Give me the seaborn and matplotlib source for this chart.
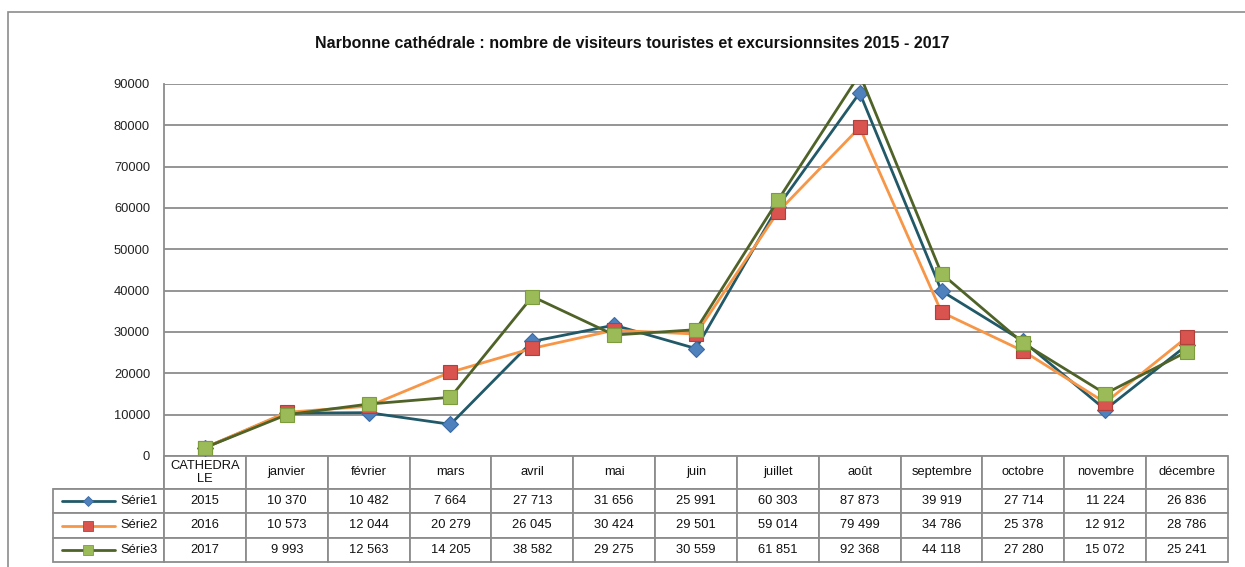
import matplotlib
matplotlib.use("Agg")
import matplotlib.pyplot as plt
import matplotlib.patches as mpatches
from matplotlib.lines import Line2D
import seaborn as sns
import pandas as pd

categories = ["CATHEDRA\nLE", "janvier", "février", "mars", "avril", "mai", "juin",
              "juillet", "août", "septembre", "octobre", "novembre", "décembre"]
serie1 = [2015, 10370, 10482, 7664, 27713, 31656, 25991, 60303, 87873, 39919, 27714, 11224, 26836]
serie2 = [2016, 10573, 12044, 20279, 26045, 30424, 29501, 59014, 79499, 34786, 25378, 12912, 28786]
serie3 = [2017, 9993, 12563, 14205, 38582, 29275, 30559, 61851, 92368, 44118, 27280, 15072, 25241]
series_names = ["Série1", "Série2", "Série3"]
y_ticks = list(range(0, 90001, 10000))

title = "Narbonne cathédrale : nombre de visiteurs touristes et excursionnsites 2015 - 2017"

styles = {
    "Série1": dict(line="#215968", face="#4F81BD", edge="#3A6AA5", marker="D", ms=8),
    "Série2": dict(line="#F79646", face="#D9534F", edge="#B0403C", marker="s", ms=10),
    "Série3": dict(line="#4F6228", face="#9BBB59", edge="#7D9C3C", marker="s", ms=10),
}

sns.set_theme(style="white")
plt.rcParams["font.family"] = ["Liberation Sans", "DejaVu Sans"]

W, H = 1245, 567
fig = plt.figure(figsize=(W / 100, H / 100), dpi=100)
px_l, px_r, px_t, px_b = 164, 1228, 84, 456
ax = fig.add_axes([px_l / W, 1 - px_b / H, (px_r - px_l) / W, (px_b - px_t) / H])

grey = "#8C8C8C"

# outer chart frame (runs off the right and bottom edges like the original)
fig.patches.append(mpatches.Rectangle((8 / W, -0.2), 1.2, 1.2 - 12 / H,
                                      transform=fig.transFigure, fill=False,
                                      edgecolor=grey, lw=1.2))

x_pos = list(range(len(categories)))
data = {"Série1": serie1, "Série2": serie2, "Série3": serie3}
for name in series_names:
    st = styles[name]
    df = pd.DataFrame({"x": x_pos, "y": data[name]})
    sns.lineplot(data=df, x="x", y="y", ax=ax, color=st["line"], lw=2.0, sort=False,
                 marker=st["marker"], markersize=st["ms"], markerfacecolor=st["face"],
                 markeredgecolor=st["edge"], markeredgewidth=0.8, zorder=3)

ax.set_xlim(-0.5, len(categories) - 0.5)
ax.set_ylim(0, 90000)
ax.set_yticks(y_ticks)
ax.set_yticklabels([str(v) for v in y_ticks], fontsize=9.3, color="#222222")
ax.tick_params(axis="y", length=0, pad=10)
ax.set_xticks([])
ax.set_xlabel("")
ax.set_ylabel("")
ax.grid(axis="y", color=grey, lw=1.3)
ax.set_axisbelow(True)
for s in ["top", "right", "bottom"]:
    ax.spines[s].set_visible(False)
ax.spines["left"].set_color(grey)
ax.spines["left"].set_linewidth(1.3)

fig.text(632 / W, 1 - 44 / H, title, ha="center", va="center",
         fontsize=11.5, fontweight="bold", color="#111111")

# data table below the plot
ax_w = px_r - px_l
ax_h = px_b - px_t
leg_w = (px_l - 53) / ax_w
tbl_h = (562 - 456) / ax_h

def fmt(v, first):
    return str(v) if first else f"{v:,}".replace(",", " ")

cell_text = [[""] + categories]
for name in series_names:
    cell_text.append([""] + [fmt(v, i == 0) for i, v in enumerate(data[name])])

col_w = [111] + [ax_w / len(categories)] * len(categories)
tbl = ax.table(cellText=cell_text, colWidths=col_w, cellLoc="center",
               bbox=[-leg_w, -tbl_h, 1 + leg_w, tbl_h])
tbl.auto_set_font_size(False)
tbl.set_fontsize(9.3)
for (r, c), cell in tbl.get_celld().items():
    cell.set_edgecolor(grey)
    cell.set_linewidth(1.3)
    cell.set_height(33 if r == 0 else 24.4)
    cell.get_text().set_color("#111111")
    if r == 0:
        cell.get_text().set_linespacing(1.05)
    if r == 0 and c == 0:
        cell.visible_edges = "BR"

# legend keys in the row-label cells
def to_ax(px, py):
    return (px - px_l) / ax_w, (px_b - py) / ax_h

row_y = [501, 525.5, 550]
for name, py in zip(series_names, row_y):
    st = styles[name]
    x0, y0 = to_ax(62, py)
    x1, _ = to_ax(115, py)
    xm, _ = to_ax(88, py)
    ax.add_line(Line2D([x0, x1], [y0, y0], transform=ax.transAxes, color=st["line"],
                       lw=2.0, clip_on=False))
    ax.add_line(Line2D([xm], [y0], transform=ax.transAxes, marker=st["marker"],
                       markersize=st["ms"] * 0.65, markerfacecolor=st["face"],
                       markeredgecolor=st["edge"], markeredgewidth=0.6, lw=0,
                       clip_on=False))
    xt, _ = to_ax(158, py)
    ax.text(xt, y0, name, transform=ax.transAxes, ha="right", va="center",
            fontsize=9.3, color="#111111")

fig.savefig("out.png", dpi=100)
